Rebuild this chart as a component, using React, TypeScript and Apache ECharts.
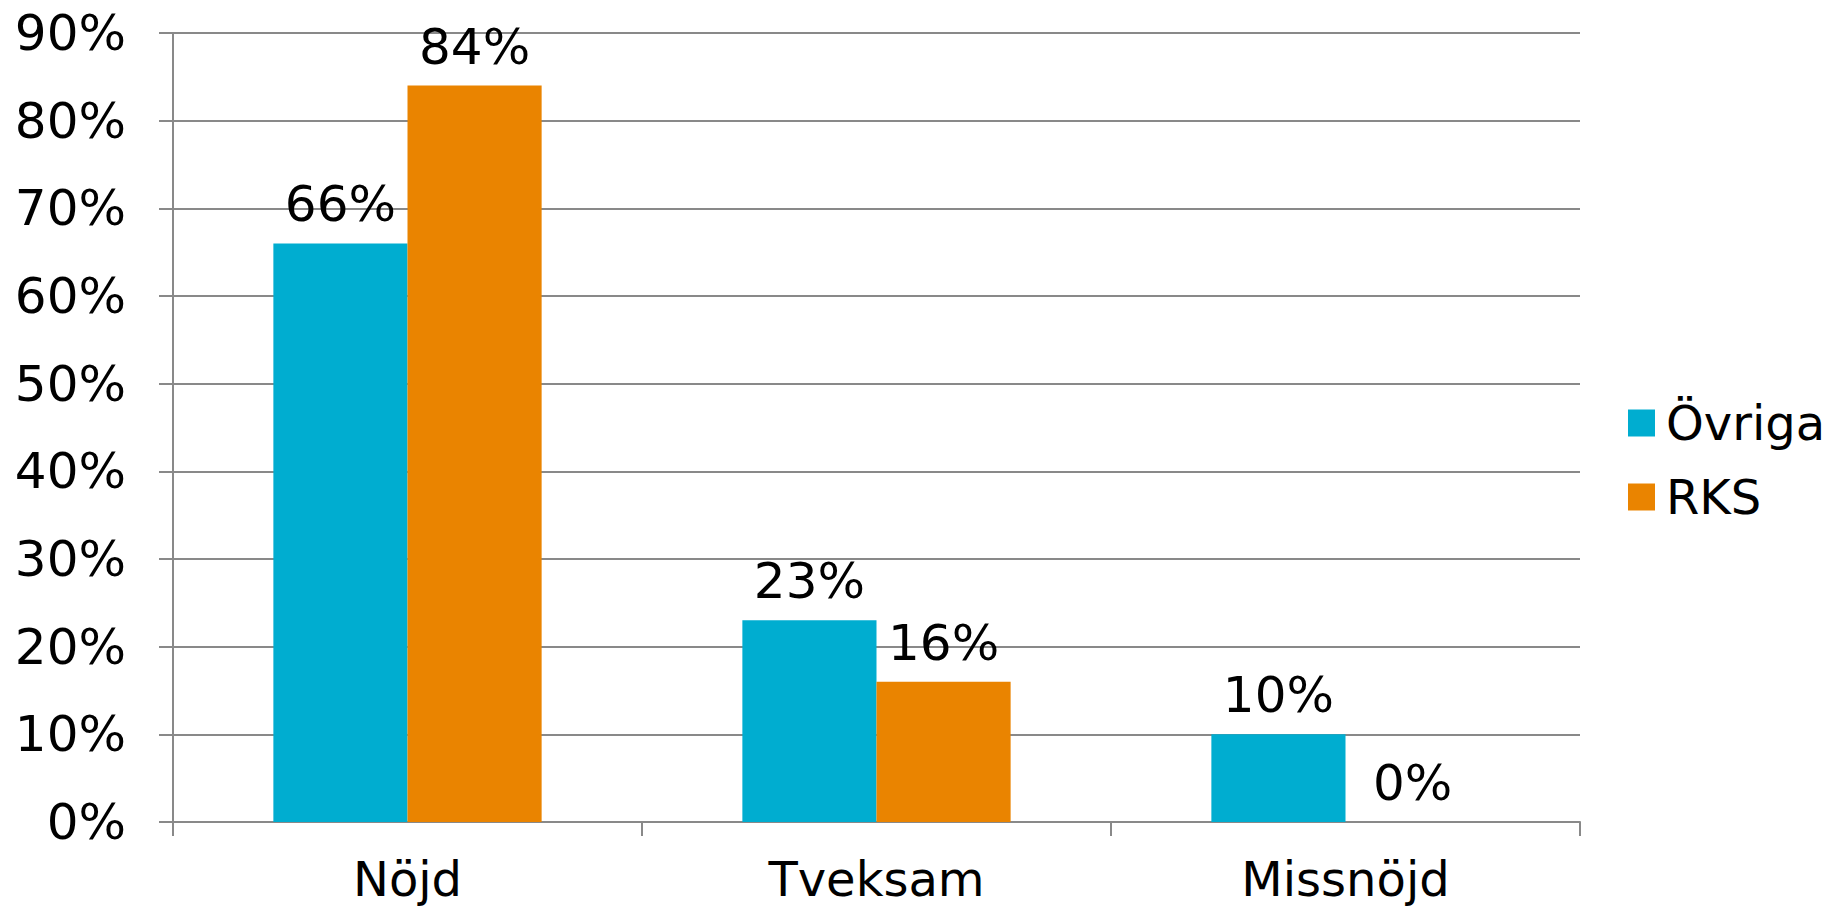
import React, { useEffect, useRef } from "react";
import * as echarts from "echarts";

const categories = ["Nöjd", "Tveksam", "Missnöjd"];
const seriesNames = ["Övriga", "RKS"];
const ovrigaValues = [66, 23, 10];
const rksValues = [84, 16, 0];
const colors = ["#00ADD0", "#EA8400"];

const FONT = "DejaVu Sans";
const FS = 50;

export default function App() {
  const ref = useRef<HTMLDivElement>(null);
  useEffect(() => {
    if (!ref.current) return;
    const chart = echarts.init(ref.current, null, { renderer: "svg" });
    const labelStyle = {
      show: true,
      position: "top",
      distance: 14,
      formatter: "{c}%",
      color: "#000",
      fontFamily: FONT,
      fontSize: FS,
    };
    chart.setOption({
      animation: false,
      backgroundColor: "#fff",
      grid: { left: 173, right: 248, top: 33, bottom: 87, containLabel: false },
      legend: {
        orient: "vertical",
        left: 1623,
        top: 394,
        itemWidth: 27,
        itemHeight: 27,
        itemGap: 26,
        icon: "rect",
        textStyle: { fontFamily: FONT, fontSize: 48, color: "#000", padding: [0, 0, 0, 6] },
        data: seriesNames,
      },
      xAxis: {
        type: "category",
        data: categories,
        axisLine: { lineStyle: { color: "#898989", width: 2 } },
        axisTick: { show: true, length: 14, lineStyle: { color: "#898989", width: 2 } },
        axisLabel: { margin: 33, fontFamily: FONT, fontSize: 48, lineHeight: 48, color: "#000" },
      },
      yAxis: {
        type: "value",
        min: 0,
        max: 90,
        interval: 10,
        axisLine: { show: true, lineStyle: { color: "#898989", width: 2 } },
        axisTick: { show: true, length: 14, lineStyle: { color: "#898989", width: 2 } },
        splitLine: { lineStyle: { color: "#898989", width: 2 } },
        axisLabel: { formatter: "{value}%", margin: 47, fontFamily: FONT, fontSize: FS, color: "#000" },
      },
      series: [
        {
          name: seriesNames[0],
          type: "bar",
          data: ovrigaValues,
          itemStyle: { color: colors[0] },
          barGap: "0%",
          barCategoryGap: "42.8%",
          label: labelStyle,
        },
        {
          name: seriesNames[1],
          type: "bar",
          data: rksValues,
          itemStyle: { color: colors[1] },
          barGap: "0%",
          barCategoryGap: "42.8%",
          label: labelStyle,
        },
      ],
    });
    return () => chart.dispose();
  }, []);
  return (
    <div
      ref={ref}
      style={{ position: "fixed", left: 0, top: 0, width: 1828, height: 909, background: "#fff" }}
    />
  );
}
